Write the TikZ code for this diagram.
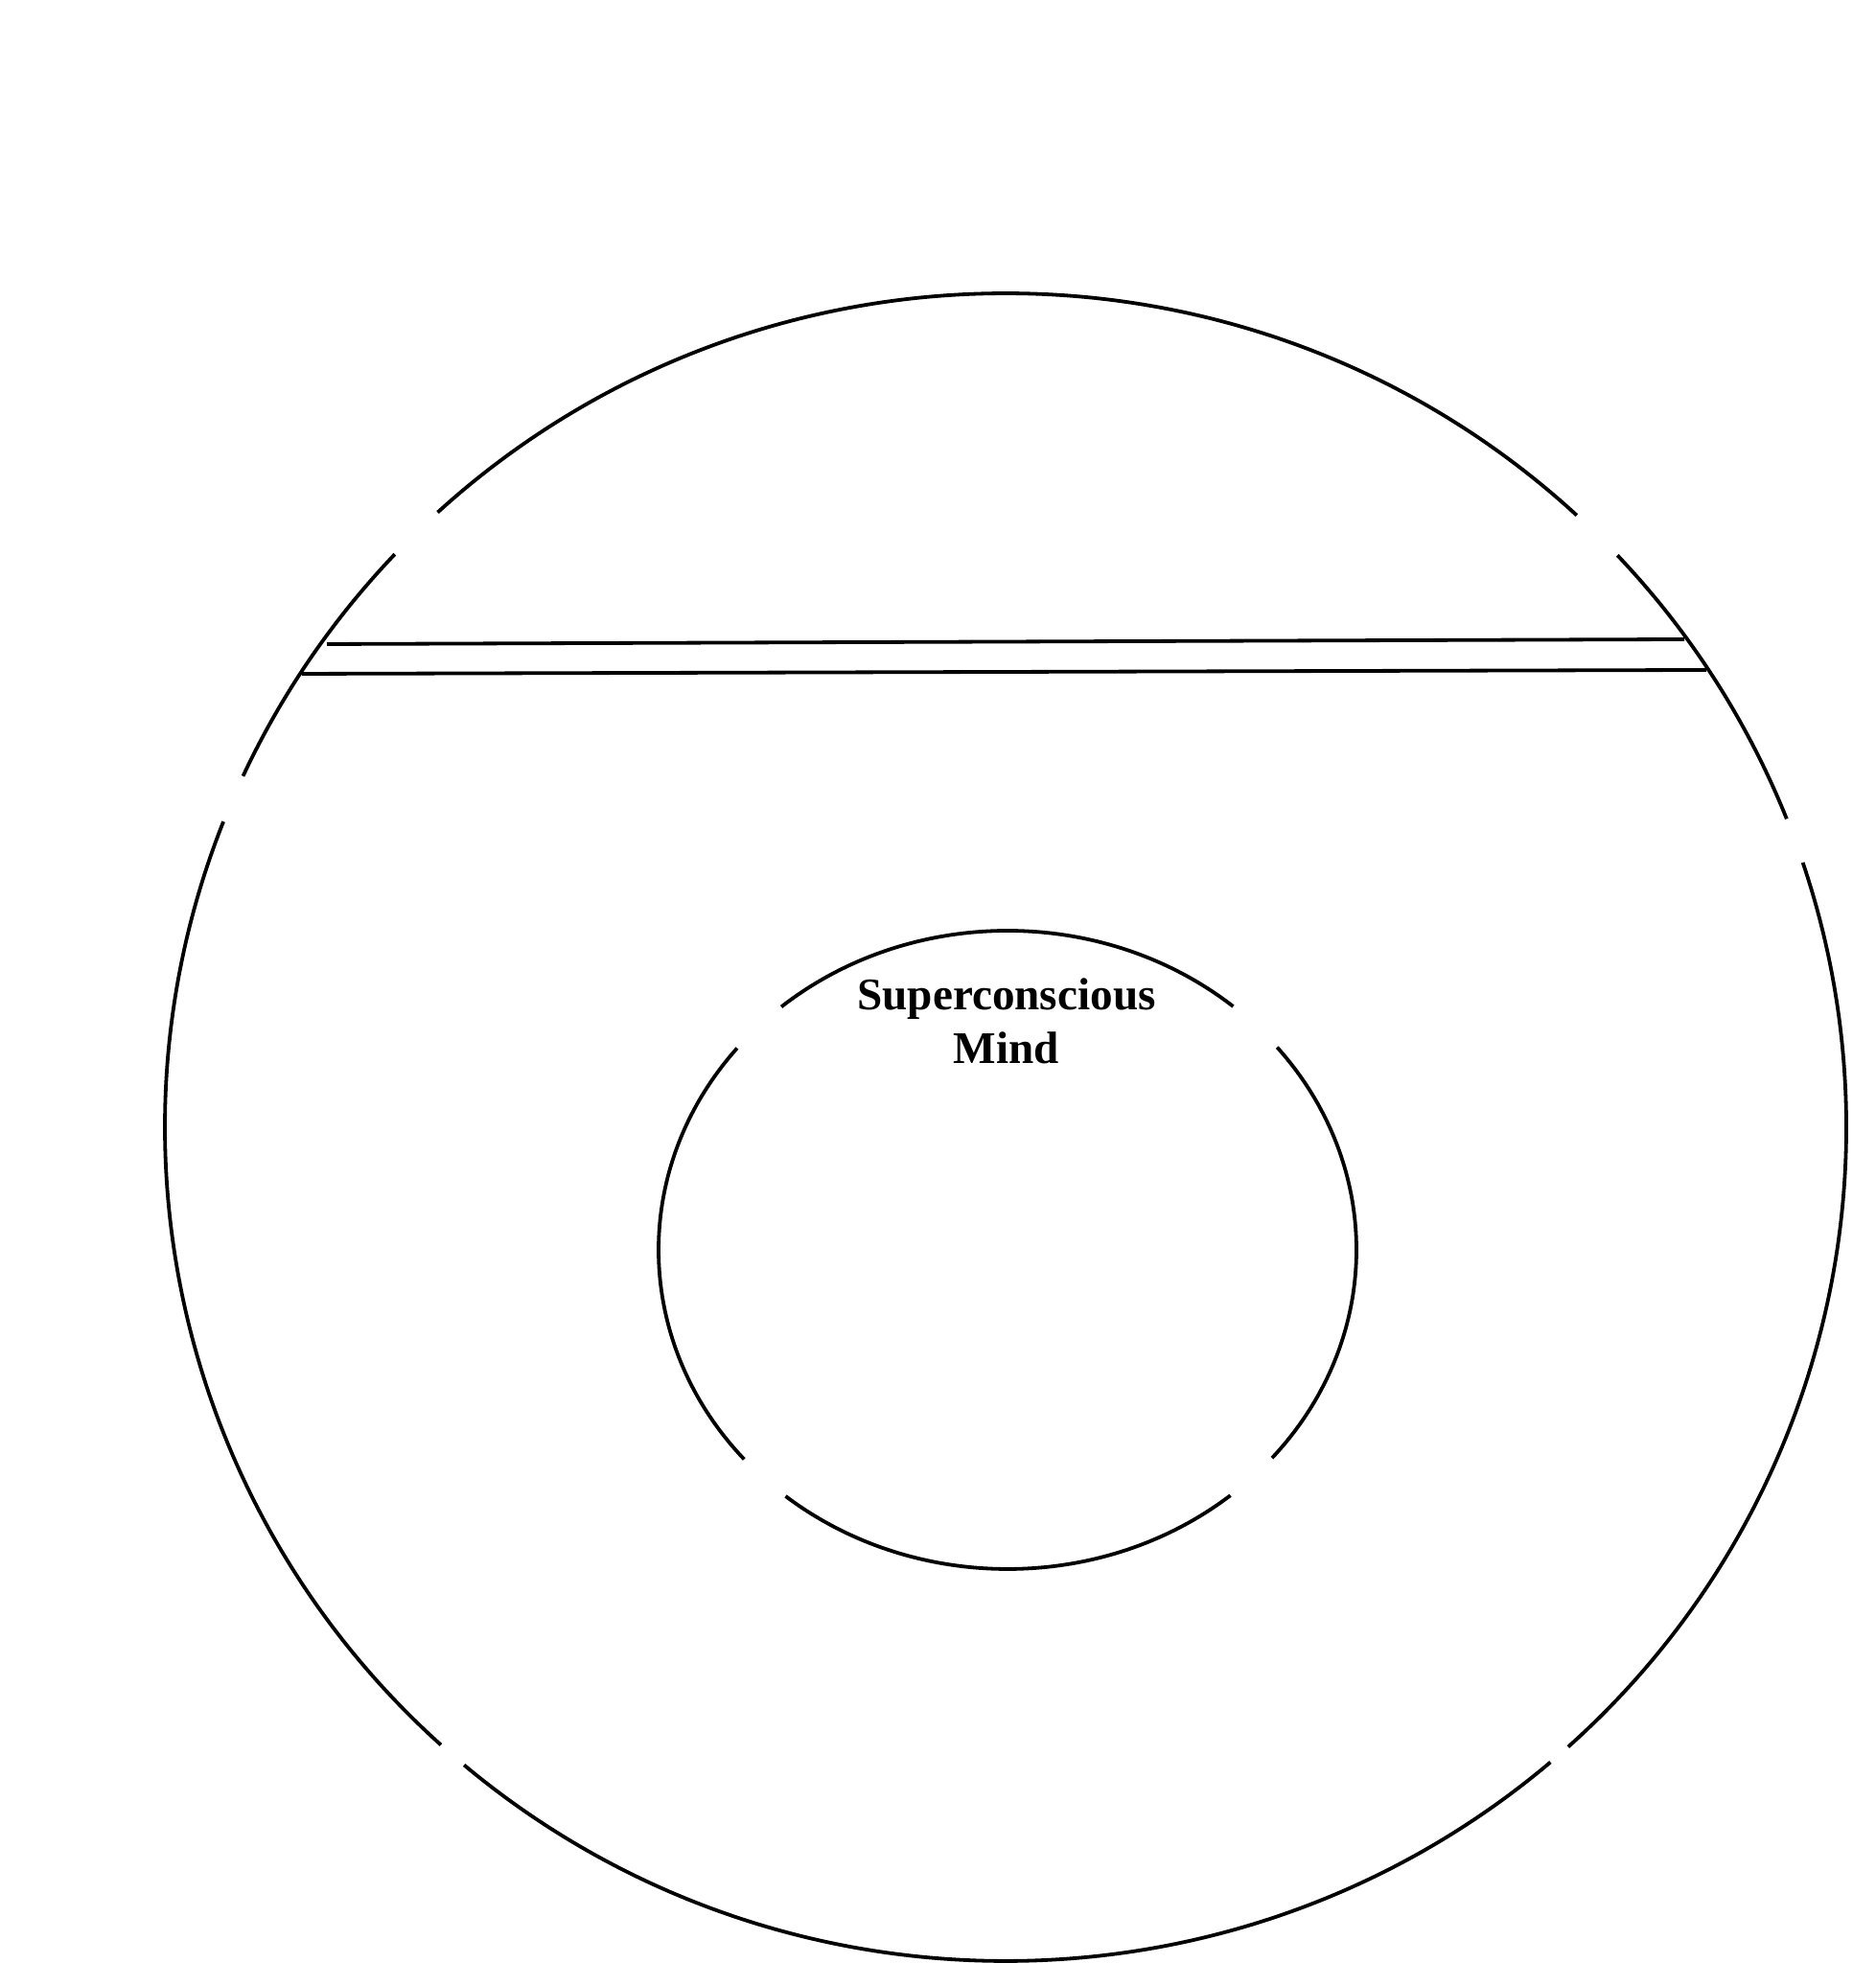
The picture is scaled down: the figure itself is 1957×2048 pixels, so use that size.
\documentclass[tikz,border=0pt]{standalone}
\usepackage{fontspec}
\setmainfont{Liberation Serif}
\begin{document}
\begin{tikzpicture}[x=0.5pt,y=0.5pt,
  ring/.style={line width=1.9pt,line cap=butt},
  band/.style={line width=1.9pt},
  label/.style={font=\fontsize{23.6}{28}\selectfont\bfseries,align=center,inner sep=0pt}]
\useasboundingbox[fill=white] (0,0) rectangle (1957,2048);
\coordinate (oc) at (1049,872);
\coordinate (ic) at (1051,744);
% outer circle, six arcs separated by small gaps
\foreach \a/\b in {21.7/43.3, 47.2/132.5, 136.6/155.1, 158.5/227.8, 229.9/310.4, 312.0/378.5}
  \draw[ring] (oc) ++(\a:877 and 870) arc[start angle=\a, end angle=\b, x radius=877, y radius=870];
% inner circle, four arcs
\foreach \a/\b in {49.7/130.4, 140.8/221.0, 230.5/309.7, 319.3/399.4}
  \draw[ring] (ic) ++(\a:364 and 333) arc[start angle=\a, end angle=\b, x radius=364, y radius=333];
% horizontal band
\coordinate (ul) at (341,1376);
\coordinate (ur) at (1757,1381);
\coordinate (ll) at (315,1345);
\coordinate (lr) at (1780,1349);
\draw[band] (ul) -- (ur);
\draw[band] (ll) -- (lr);
\node[label] (sm) at (1050,983) {Superconscious\\Mind};
\end{tikzpicture}
\end{document}
